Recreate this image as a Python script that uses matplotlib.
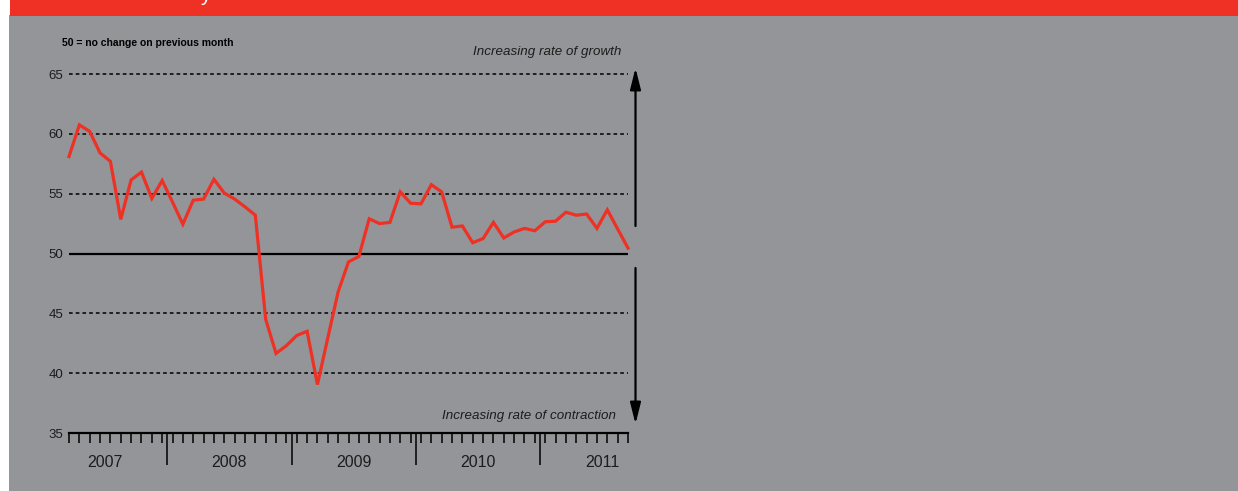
import matplotlib
matplotlib.use("Agg")
import matplotlib.pyplot as plt
from matplotlib.patches import Rectangle, FancyArrowPatch
from matplotlib.ticker import FixedLocator

# ---- data -------------------------------------------------------------
start_year = 2007
start_month = 3          # first observation: March 2007
pmi_values = [
    58.1, 60.75, 60.2, 58.4, 57.7, 52.85, 56.15, 56.8, 54.6, 56.1,
    54.3, 52.45, 54.45, 54.55, 56.2, 55.05, 54.55, 53.9, 53.2, 44.5,
    41.65, 42.3, 43.15, 43.5, 39.05, 42.95, 46.8, 49.3, 49.75, 52.9,
    52.5, 52.6, 55.15, 54.2, 54.15, 55.75, 55.15, 52.2, 52.3, 50.9,
    51.25, 52.6, 51.3, 51.8, 52.1, 51.9, 52.65, 52.7, 53.45, 53.2,
    53.3, 52.1, 53.65, 52.05, 50.45,
]
year_labels = ["2007", "2008", "2009", "2010", "2011"]
y_ticks = [35, 40, 45, 50, 55, 60, 65]
dashed_levels = [40, 45, 55, 60, 65]
neutral_level = 50
note_text = "50 = no change on previous month"
growth_text = "Increasing rate of growth"
contraction_text = "Increasing rate of contraction"

# ---- style ------------------------------------------------------------
W, H = 1238, 491
RED = "#ee3124"
GRAY = "#939598"
INK = "#1c1c1c"
plt.rcParams["font.family"] = ["Liberation Sans", "DejaVu Sans"]

fig = plt.figure(figsize=(W / 100, H / 100), dpi=100, facecolor="white")

# background panels (figure pixel geometry)
fig.patches.append(Rectangle((9 / W, 0), 1 - 9 / W, 1 - 15 / H,
                             transform=fig.transFigure, facecolor=GRAY,
                             edgecolor="none", zorder=-5))
fig.patches.append(Rectangle((10 / W, 1 - 15.5 / H), 1 - 10 / W, 15.5 / H,
                             transform=fig.transFigure, facecolor=RED,
                             edgecolor="none", zorder=-5))
# lower part of the cropped header title
fig.text(200 / W, 1 - 1 / H, "y", color="white", fontsize=15,
         ha="left", va="baseline", zorder=-4)

# axes: x index 0 -> px 69, last -> px 628 ; y 35 -> px 433, 65 -> px 74
x0_px, x1_px = 69, 628
y35_px, y65_px = 433, 74
ax = fig.add_axes([x0_px / W, 1 - y35_px / H,
                   (x1_px - x0_px) / W, (y35_px - y65_px) / H])
ax.set_facecolor("none")
ax.set_zorder(2)
n = len(pmi_values)
idx = list(range(n))
ax.set_xlim(0, n - 1)
ax.set_ylim(min(y_ticks), max(y_ticks))

for s in ["top", "right", "left"]:
    ax.spines[s].set_visible(False)
ax.spines["bottom"].set_linewidth(1.6)
ax.spines["bottom"].set_color("black")

# gridlines
for lv in dashed_levels:
    ax.axhline(lv, color="black", lw=1.1, dashes=(2.4, 2.0), zorder=1,
               clip_on=False)
ax.axhline(neutral_level, color="black", lw=1.6, zorder=1)

# data line
ax.plot(idx, pmi_values, color=RED, lw=2.3, solid_joinstyle="miter",
        zorder=3, clip_on=False)

# x ticks: minor = months, major = year boundaries
months_abs = [start_month - 1 + i for i in idx]  # months since Jan of start year
year_bounds = [i - 0.5 for i, m in zip(idx, months_abs) if m % 12 == 0 and i > 0]
ax.xaxis.set_minor_locator(FixedLocator(idx))
ax.xaxis.set_major_locator(FixedLocator(year_bounds))
ax.tick_params(axis="x", which="minor", length=7.4, width=1.1,
               direction="out", color="black")
ax.tick_params(axis="x", which="major", length=23, width=1.1,
               direction="out", color="black", labelbottom=False)

# year labels centred on each calendar year
first_jan = -(start_month - 1)
for k, lab in enumerate(year_labels):
    centre = first_jan + 12 * k + 5.5
    ax.text(centre, -0.082, lab, transform=ax.get_xaxis_transform(),
            ha="center", va="center", fontsize=11.5, color=INK)

# y ticks
ax.set_yticks(y_ticks)
ax.tick_params(axis="y", length=0, pad=4.0, labelsize=9.5, labelcolor=INK)

# note and arrow captions
fig.text(62.5 / W, 1 - 43 / H, note_text, fontsize=7.5, fontweight="bold",
         color="black", ha="left", va="center")
fig.text(621 / W, 1 - 52 / H, growth_text, fontsize=9.6, style="italic",
         color=INK, ha="right", va="center")
fig.text(616 / W, 1 - 416 / H, contraction_text, fontsize=9.6, style="italic",
         color=INK, ha="right", va="center")

# arrows at the right
arrow_x = 635.5 / W
astyle = "-|>,head_length=0.4,head_width=0.1"
fig.add_artist(FancyArrowPatch(
    (arrow_x, 1 - 226 / H), (arrow_x, 1 - 68 / H), transform=fig.transFigure,
    arrowstyle=astyle, mutation_scale=32, lw=1.6, color="black",
    shrinkA=0, shrinkB=0))
fig.add_artist(FancyArrowPatch(
    (arrow_x, 1 - 268 / H), (arrow_x, 1 - 424 / H), transform=fig.transFigure,
    arrowstyle=astyle, mutation_scale=32, lw=1.6, color="black",
    shrinkA=0, shrinkB=0))

fig.savefig("out.png", dpi=100, facecolor=fig.get_facecolor())
